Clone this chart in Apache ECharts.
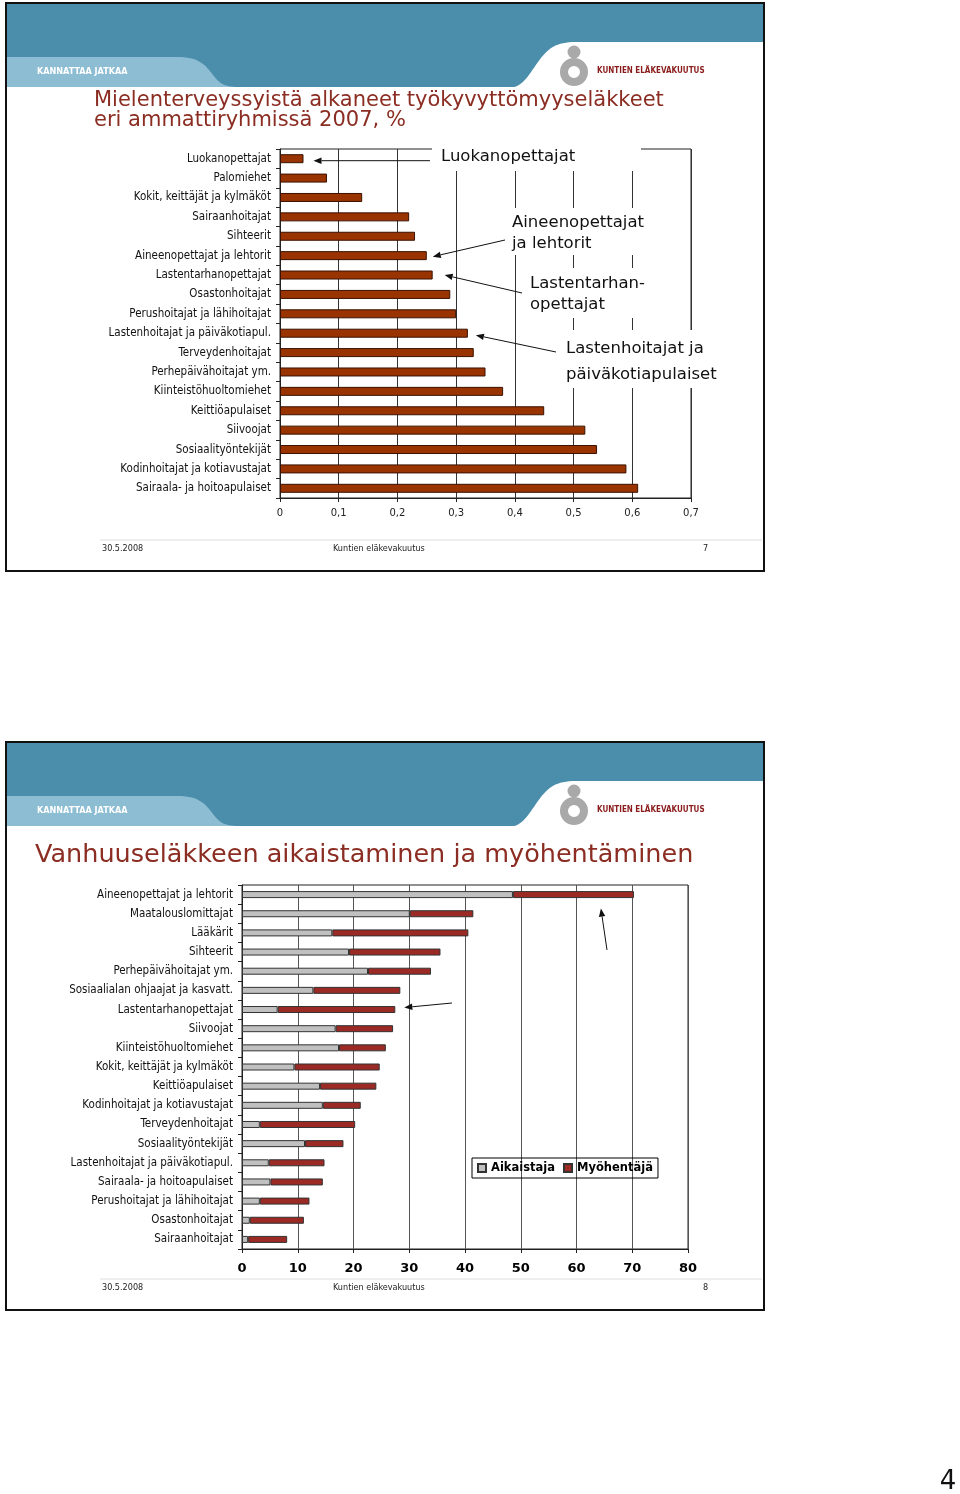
<!DOCTYPE html>
<html lang="fi">
<head>
<meta charset="UTF-8">
<title>Kuntien eläkevakuutus</title>
<script src="https://cdn.jsdelivr.net/npm/echarts@6/dist/echarts.min.js"></script>
<style>body{margin:0;background:#fff}</style>
</head>
<body>
<div id="page" style="width:960px;height:1494px;"></div>
<script>
// slide 7: mielenterveyssyistä alkaneet työkyvyttömyyseläkkeet, %
var cats1 = ['Luokanopettajat', 'Palomiehet', 'Kokit, keittäjät ja kylmäköt', 'Sairaanhoitajat',
    'Sihteerit', 'Aineenopettajat ja lehtorit', 'Lastentarhanopettajat', 'Osastonhoitajat',
    'Perushoitajat ja lähihoitajat', 'Lastenhoitajat ja päiväkotiapul.', 'Terveydenhoitajat',
    'Perhepäivähoitajat ym.', 'Kiinteistöhuoltomiehet', 'Keittiöapulaiset', 'Siivoojat',
    'Sosiaalityöntekijät', 'Kodinhoitajat ja kotiavustajat', 'Sairaala- ja hoitoapulaiset'];
var share1 = [0.04, 0.08, 0.14, 0.22, 0.23, 0.25, 0.26, 0.29, 0.30, 0.32, 0.33, 0.35, 0.38,
    0.45, 0.52, 0.54, 0.59, 0.61];

// slide 8: vanhuuseläkkeen aikaistaminen ja myöhentäminen
var cats2 = ['Aineenopettajat ja lehtorit', 'Maatalouslomittajat', 'Lääkärit', 'Sihteerit',
    'Perhepäivähoitajat ym.', 'Sosiaalialan ohjaajat ja kasvatt.', 'Lastentarhanopettajat',
    'Siivoojat', 'Kiinteistöhuoltomiehet', 'Kokit, keittäjät ja kylmäköt', 'Keittiöapulaiset',
    'Kodinhoitajat ja kotiavustajat', 'Terveydenhoitajat', 'Sosiaalityöntekijät',
    'Lastenhoitajat ja päiväkotiapul.', 'Sairaala- ja hoitoapulaiset',
    'Perushoitajat ja lähihoitajat', 'Osastonhoitajat', 'Sairaanhoitajat'];
var early2 = [48.6, 30.1, 16.2, 19.2, 22.6, 12.8, 6.4, 16.8, 17.4, 9.4, 14.0, 14.5, 3.2, 11.3,
    4.8, 5.1, 3.2, 1.4, 1.1];
var late2 = [21.7, 11.4, 24.4, 16.4, 11.3, 15.6, 21.1, 10.3, 8.4, 15.3, 10.1, 6.8, 17.1, 6.9,
    10.0, 9.4, 8.9, 9.7, 7.0];

var catFont = 'DejaVu Sans Condensed, DejaVu Sans';
var chart = echarts.init(document.getElementById('page'));

chart.setOption({
    animation: false,
    backgroundColor: '#fff',
    grid: [
        {left: 280, top: 149, width: 411, height: 349, show: true, borderColor: '#222', borderWidth: 1},
        {left: 242, top: 885, width: 446, height: 364, show: true, borderColor: '#222', borderWidth: 1}
    ],
    legend: {
        data: ['Aikaistaja', 'Myöhentäjä'],
        left: 472, top: 1158,
        orient: 'horizontal',
        icon: 'rect',
        itemWidth: 8, itemHeight: 8, itemGap: 8,
        padding: [4, 5],
        borderColor: '#000', borderWidth: 1,
        textStyle: {fontFamily: 'DejaVu Sans', fontWeight: 'bold', fontSize: 11.5, color: '#000'}
    },
    xAxis: [
        {
            type: 'value', gridIndex: 0, min: 0, max: 0.7, interval: 0.1,
            axisLine: {show: true, lineStyle: {color: '#222'}},
            axisTick: {show: true, length: 4, lineStyle: {color: '#222'}},
            axisLabel: {
                fontFamily: 'DejaVu Sans', fontSize: 10, color: '#222', margin: 10,
                formatter: function (v) { return String(Math.round(v * 10) / 10).replace('.', ','); }
            },
            splitLine: {show: true, lineStyle: {color: '#333', width: 1}}
        },
        {
            type: 'value', gridIndex: 1, min: 0, max: 80, interval: 10,
            axisLine: {show: true, lineStyle: {color: '#222'}},
            axisTick: {show: true, length: 4, lineStyle: {color: '#222'}},
            axisLabel: {fontFamily: 'DejaVu Sans', fontWeight: 'bold', fontSize: 13, color: '#000', margin: 13},
            splitLine: {show: true, lineStyle: {color: '#555', width: 1}}
        }
    ],
    yAxis: [
        {
            type: 'category', gridIndex: 0, data: cats1, inverse: true,
            axisLine: {show: true, lineStyle: {color: '#222'}},
            axisTick: {show: true, length: 4, lineStyle: {color: '#222'}},
            axisLabel: {fontFamily: catFont, fontSize: 11.5, color: '#111', margin: 9}
        },
        {
            type: 'category', gridIndex: 1, data: cats2, inverse: true,
            axisLine: {show: true, lineStyle: {color: '#222'}},
            axisTick: {show: true, length: 4, lineStyle: {color: '#222'}},
            axisLabel: {fontFamily: catFont, fontSize: 11.5, color: '#111', margin: 9}
        }
    ],
    series: [
        {
            name: 'Osuus', type: 'bar', xAxisIndex: 0, yAxisIndex: 0, data: share1,
            barWidth: 9,
            itemStyle: {color: '#993300', borderColor: '#3b1200', borderWidth: 1}
        },
        {
            name: 'Aikaistaja', type: 'bar', xAxisIndex: 1, yAxisIndex: 1, stack: 'vl', data: early2,
            barWidth: 7,
            itemStyle: {color: '#c0c0c0', borderColor: '#333', borderWidth: 1}
        },
        {
            name: 'Myöhentäjä', type: 'bar', xAxisIndex: 1, yAxisIndex: 1, stack: 'vl', data: late2,
            barWidth: 7,
            itemStyle: {color: '#9b2a25', borderColor: '#333', borderWidth: 1}
        }
    ]
});

// --- decorations: slide frames, headers, titles, footers, annotations ---
var els = [];

function txt(s, x, y, font, fill, align, z) {
    els.push({
        type: 'text', z: z || 50,
        style: {text: s, x: x, y: y, font: font, fill: fill, textAlign: align || 'left', textVerticalAlign: 'middle'}
    });
}

// cubic bezier sampled into polygon points
function curve(pts, p0, c1, c2, p1) {
    for (var k = 1; k <= 16; k++) {
        var t = k / 16, u = 1 - t;
        pts.push([
            u * u * u * p0[0] + 3 * u * u * t * c1[0] + 3 * u * t * t * c2[0] + t * t * t * p1[0],
            u * u * u * p0[1] + 3 * u * u * t * c1[1] + 3 * u * t * t * c2[1] + t * t * t * p1[1]
        ]);
    }
    return pts;
}

function slide(dy, page) {
    els.push({type: 'rect', z: 1, shape: {x: 7, y: 4 + dy, width: 756, height: 83}, style: {fill: '#4b8eab'}});
    var band = [[7, 57 + dy], [178, 57 + dy]];
    curve(band, [178, 57 + dy], [200, 57 + dy], [206, 66 + dy], [213, 75 + dy]);
    curve(band, [213, 75 + dy], [219, 83 + dy], [224, 87 + dy], [238, 87 + dy]);
    band.push([7, 87 + dy]);
    els.push({type: 'polygon', z: 2, shape: {points: band}, style: {fill: '#8dbdd3'}});
    var white = [[508, 88 + dy]];
    curve(white, [508, 88 + dy], [522, 88 + dy], [528, 76 + dy], [538, 62 + dy]);
    curve(white, [538, 62 + dy], [548, 48 + dy], [556, 42 + dy], [576, 42 + dy]);
    white.push([763, 42 + dy], [763, 88 + dy]);
    els.push({type: 'polygon', z: 2, shape: {points: white}, style: {fill: '#fff'}});
    txt('KANNATTAA JATKAA', 37, 72 + dy, 'bold 9px DejaVu Sans Condensed, DejaVu Sans', '#fff');
    // logo
    els.push({type: 'circle', z: 3, shape: {cx: 574, cy: 52 + dy, r: 6.5}, style: {fill: '#a9a9a9'}});
    els.push({type: 'ring', z: 3, shape: {cx: 574, cy: 72 + dy, r: 14, r0: 6}, style: {fill: '#a9a9a9'}});
    txt('KUNTIEN ELÄKEVAKUUTUS', 597, 71 + dy, 'bold 8px DejaVu Sans Condensed, DejaVu Sans', '#8b1c1c');
    // footer
    els.push({type: 'line', z: 3, shape: {x1: 100, y1: 540 + dy, x2: 762, y2: 540 + dy},
        style: {stroke: '#ddd', lineWidth: 1}});
    txt('30.5.2008', 102, 549 + dy, '9px DejaVu Sans Condensed, DejaVu Sans', '#222');
    txt('Kuntien eläkevakuutus', 333, 549 + dy, '9px DejaVu Sans Condensed, DejaVu Sans', '#222');
    txt(page, 703, 549 + dy, '9px DejaVu Sans Condensed, DejaVu Sans', '#222');
    // frame
    els.push({type: 'rect', z: 200, shape: {x: 6, y: 3 + dy, width: 758, height: 568},
        style: {fill: 'none', stroke: '#111', lineWidth: 2}});
}

slide(0, '7');
slide(739, '8');

var titleColor = '#8b2d22';
txt('Mielenterveyssyistä alkaneet työkyvyttömyyseläkkeet', 94, 101, '21px DejaVu Sans', titleColor);
txt('eri ammattiryhmissä 2007, %', 94, 121, '21px DejaVu Sans', titleColor);
txt('Vanhuuseläkkeen aikaistaminen ja myöhentäminen', 35, 855, '25.5px DejaVu Sans', titleColor);
txt('4', 948, 1482, '26px DejaVu Sans', '#111', 'center');

// white boxes behind annotation texts (hide grid lines as in the original)
function box(x, y, w, h) {
    els.push({type: 'rect', z: 90, shape: {x: x, y: y, width: w, height: h}, style: {fill: '#fff'}});
}
box(432, 141, 209, 30);
box(505, 208, 150, 47);
box(524, 268, 131, 50);
box(558, 330, 164, 58);

var aFont = '16.5px DejaVu Sans';
txt('Luokanopettajat', 441, 157, aFont, '#111', 'left', 100);
txt('Aineenopettajat', 512, 223, aFont, '#111', 'left', 100);
txt('ja lehtorit', 512, 244, aFont, '#111', 'left', 100);
txt('Lastentarhan-', 530, 284, aFont, '#111', 'left', 100);
txt('opettajat', 530, 305, aFont, '#111', 'left', 100);
txt('Lastenhoitajat ja', 566, 349, aFont, '#111', 'left', 100);
txt('päiväkotiapulaiset', 566, 375, aFont, '#111', 'left', 100);

function arrow(x1, y1, x2, y2) {
    var a = Math.atan2(y2 - y1, x2 - x1), L = 8, W = 3.2;
    var bx = x2 - L * Math.cos(a), by = y2 - L * Math.sin(a);
    var px = -Math.sin(a) * W, py = Math.cos(a) * W;
    els.push({type: 'line', z: 101, shape: {x1: x1, y1: y1, x2: bx, y2: by}, style: {stroke: '#111', lineWidth: 1}});
    els.push({type: 'polygon', z: 101, shape: {points: [[x2, y2], [bx + px, by + py], [bx - px, by - py]]},
        style: {fill: '#111'}});
}

function barEnd1(name) {
    var i = cats1.indexOf(name);
    return chart.convertToPixel({xAxisIndex: 0, yAxisIndex: 0}, [share1[i], name]);
}
function barEnd2(name) {
    var i = cats2.indexOf(name);
    return chart.convertToPixel({xAxisIndex: 1, yAxisIndex: 1}, [early2[i] + late2[i], name]);
}

var p = barEnd1('Luokanopettajat');
arrow(430, p[1] + 2, p[0] + 10, p[1] + 2);
p = barEnd1('Aineenopettajat ja lehtorit');
arrow(505, 240, p[0] + 6, p[1] + 1);
p = barEnd1('Lastentarhanopettajat');
arrow(522, 293, p[0] + 12, p[1]);
p = barEnd1('Lastenhoitajat ja päiväkotiapul.');
arrow(556, 352, p[0] + 8, p[1] + 2);

p = barEnd2('Aineenopettajat ja lehtorit');
arrow(607, 950, p[0] - 33, p[1] + 14);
p = barEnd2('Lastentarhanopettajat');
arrow(452, 1003, p[0] + 9, p[1] - 2);

chart.setOption({graphic: {elements: els}});
</script>
</body>
</html>
